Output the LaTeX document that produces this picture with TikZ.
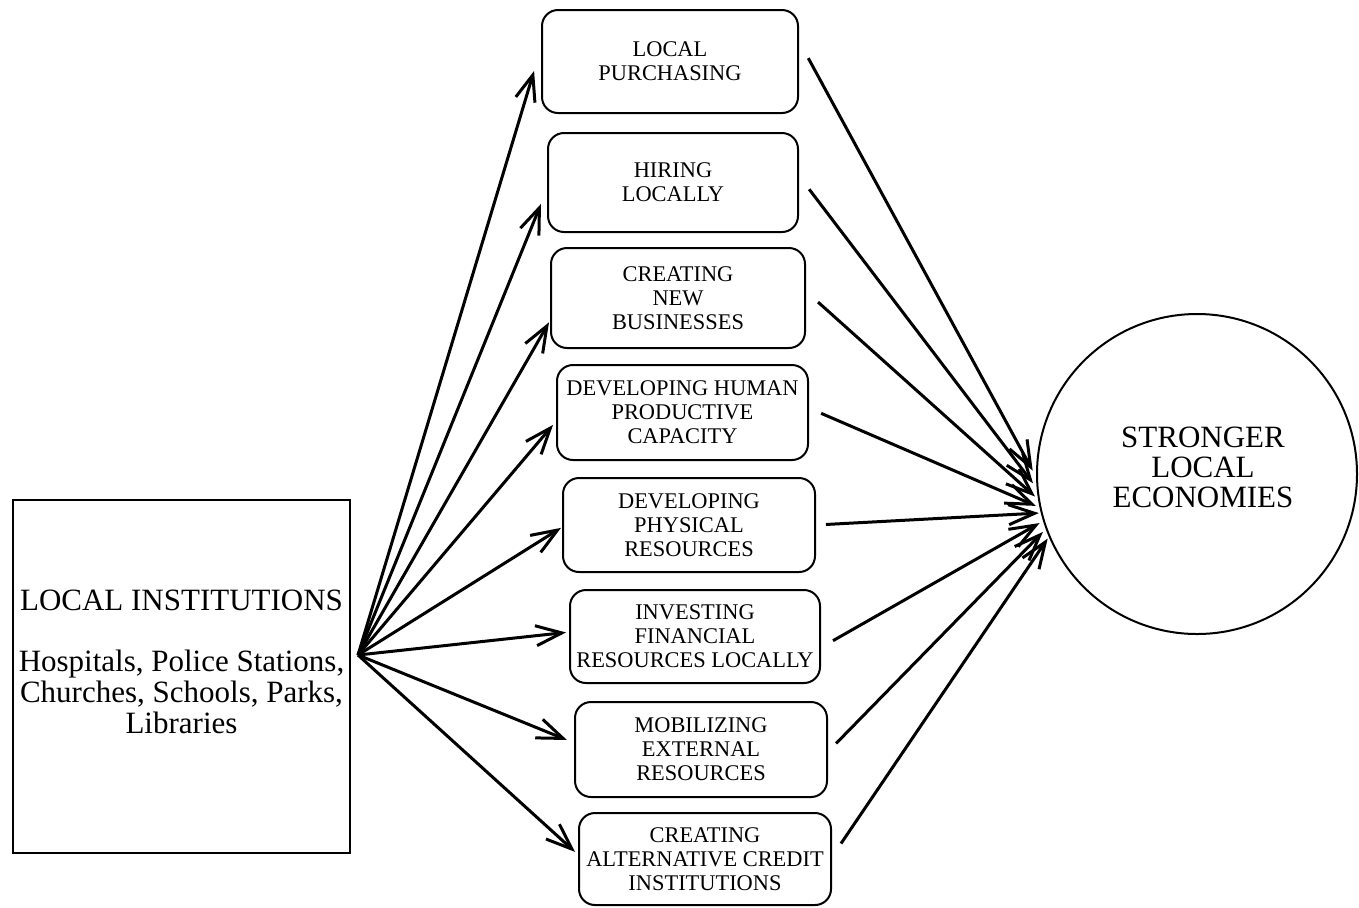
\documentclass[tikz,border=0pt]{standalone}
\usepackage{fontspec}
\setmainfont{Liberation Serif}
\usetikzlibrary{arrows.meta}
\begin{document}
\begin{tikzpicture}[x=0.5pt,y=-0.5pt,
  stage/.style={draw, rounded corners=8pt, line width=1pt, inner sep=0pt,
    align=center, font=\fontsize{11.2}{12}\selectfont},
  source/.style={draw, line width=0.8pt, inner sep=0pt,
    minimum width=168.5pt, minimum height=176.5pt},
  sourcetext/.style={inner sep=0pt, align=center,
    font=\fontsize{15.5}{15.5}\selectfont},
  goal/.style={draw, circle, line width=1pt, inner sep=0pt, minimum size=160pt},
  goaltext/.style={inner sep=0pt, align=center, font=\fontsize{15.5}{15}\selectfont},
  flow/.style={line width=1.5pt, -{Straight Barb[length=13pt,width=10pt]}},
]
\useasboundingbox (0,0) rectangle (1359,907);

% institutions on the left
\node[source] (inst) at (181.5,676.5) {};
\node[sourcetext, anchor=north] (insttext) at (181.5,590)
  {LOCAL INSTITUTIONS\\[15pt]
   Hospitals, Police Stations,\\
   Churches, Schools, Parks,\\
   Libraries};
\coordinate (hub) at (358,655);

% the eight strategies
\node[stage, minimum width=128pt,   minimum height=51.5pt] (b1) at (670,61.5)   {LOCAL\\PURCHASING};
\node[stage, minimum width=125pt,   minimum height=49.5pt] (b2) at (673,182.5)  {HIRING\\LOCALLY};
\node[stage, minimum width=127pt,   minimum height=50pt]   (b3) at (678,298)    {CREATING\\NEW\\BUSINESSES};
\node[stage, minimum width=125.5pt, minimum height=47.5pt] (b4) at (682.5,412.5){DEVELOPING HUMAN\\PRODUCTIVE\\CAPACITY};
\node[stage, minimum width=126pt,   minimum height=47pt]   (b5) at (689,525)    {DEVELOPING\\PHYSICAL\\RESOURCES};
\node[stage, minimum width=125pt,   minimum height=46.5pt] (b6) at (695,636.5)  {INVESTING\\FINANCIAL\\RESOURCES LOCALLY};
\node[stage, minimum width=126pt,   minimum height=47.5pt] (b7) at (701,749.5)  {MOBILIZING\\EXTERNAL\\RESOURCES};
\node[stage, minimum width=126pt,   minimum height=46pt]   (b8) at (705,859)    {CREATING\\ALTERNATIVE CREDIT\\INSTITUTIONS};

% outcome
\node[goal] (eco) at (1197,474) {};
\node[goaltext] (ecotext) at (1203,467) {STRONGER\\LOCAL\\ECONOMIES};

% institutions feed every strategy
\draw[flow, shorten >=12pt]  (hub) -- (b1.174.4);
\draw[flow, shorten >=8pt]   (hub) -- (b2.183.6);
\draw[flow, shorten >=1pt]   (hub) -- (b3.190);
\draw[flow, shorten >=2.3pt] (hub) -- (b4.184.1);
\draw[flow, shorten >=0.6pt] (hub) -- (b5.181.1);
\draw[flow, shorten >=1.5pt] (hub) -- (b6.178.3);
\draw[flow, shorten >=3.8pt] (hub) -- (b7.177.9);
\draw[flow, shorten >=2pt]   (hub) -- (b8.178);

% every strategy leads to stronger local economies
\draw[flow, shorten <=9.7pt, shorten >=3.5pt] (b1.9.1)  -- (eco.181.4);
\draw[flow, shorten <=8.4pt, shorten >=3pt]   (b2.3.7)  -- (eco.185.5);
\draw[flow, shorten <=8.1pt, shorten >=2pt]   (b3.3.1)  -- (eco.189);
\draw[flow, shorten <=6.6pt, shorten >=2pt]   (b4.2.2)  -- (eco.192.2);
\draw[flow, shorten <=5pt,   shorten >=1pt]   (b5.-0.7) -- (eco.194.9);
\draw[flow, shorten <=6.9pt, shorten >=2pt]   (b6.-5.6) -- (eco.197.6);
\draw[flow, shorten <=5.8pt, shorten >=2pt]   (b7.-1.7) -- (eco.200.2);
\draw[flow, shorten <=8pt,   shorten >=1pt]   (b8.1.3)  -- (eco.203.1);
\end{tikzpicture}
\end{document}
